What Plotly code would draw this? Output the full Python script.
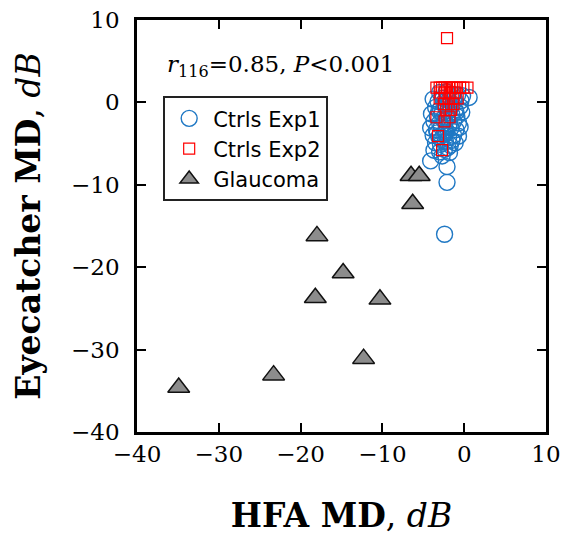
import plotly.graph_objects as go

# ---- data (dB) ----
exp1_x = [-3.0, -2.2, -1.5, -0.8, 0.6, -3.8, -3.2, -2.6, -1.9, -1.2, -0.4, -3.5, -2.9, -2.3,
          -1.7, -1.1, -0.5, -4.0, -3.3, -2.7, -2.1, -1.5, -0.9, -0.3, -3.7, -3.0, -2.4, -1.8,
          -1.3, -0.7, -4.1, -3.4, -2.8, -2.2, -1.6, -1.0, -0.5, -3.8, -3.1, -2.5, -1.9, -1.3,
          -0.7, -3.5, -2.9, -2.3, -1.7, -1.1, -3.7, -3.0, -2.4, -1.8, -2.7, -4.1, -2.1, -2.1,
          -2.4, -2.0, -2.6, -1.4, -3.1, -1.9, -2.3, -1.5, -2.0, -2.8, -3.3, -0.2, -1.0, -2.5]
exp1_y = [1.2, 1.3, 1.0, 0.9, 0.6, 0.4, 0.1, 0.5, 0.2, 0.4, 0.2, -0.6, -0.8, -0.4,
          -0.7, -0.9, -0.5, -1.4, -1.6, -1.3, -1.8, -1.5, -1.7, -1.2, -2.3, -2.5, -2.2, -2.6,
          -2.3, -2.5, -3.1, -3.3, -3.0, -3.4, -3.1, -3.3, -3.0, -4.0, -4.2, -3.9, -4.3, -4.0,
          -4.1, -4.9, -5.1, -4.8, -5.2, -4.9, -5.8, -6.0, -5.7, -6.1, -6.5, -7.1, -7.8, -9.7,
          -16.0, -1.0, -2.0, -0.2, -1.0, -2.9, -3.7, -4.6, -5.5, -4.5, -3.7, 0.8, -1.2, 0.0]

exp2_x = [-3.4, -3.0, -2.7, -2.4, -2.1, -1.8, -1.5, -1.2, -0.9, -0.5, -0.1, 0.4,
          -2.9, -2.3, -1.7, -1.1, -3.0, -2.4, -1.9, -1.4, -0.8, -2.5, -1.9, -1.3,
          -2.2, -1.6, -3.4, -1.8, -2.4, -3.2, -2.7, -2.1]
exp2_y = [1.8, 1.8, 1.8, 1.8, 1.8, 1.8, 1.8, 1.8, 1.8, 1.8, 1.8, 1.8,
          1.2, 1.2, 1.2, 1.2, 0.5, 0.5, 0.5, 0.5, 0.5, -0.2, -0.2, -0.2,
          -0.9, -0.9, -1.8, -1.8, -2.3, -4.1, -5.8, 7.8]

glau_x = [-34.9, -23.3, -12.3, -18.2, -10.3, -14.8, -18.0, -6.3, -6.5, -5.5]
glau_y = [-34.6, -33.1, -31.1, -23.7, -23.9, -20.7, -16.2, -12.3, -8.9, -8.9]

tick_vals = [-40, -30, -20, -10, 0, 10]
series_names = ["Ctrls Exp1", "Ctrls Exp2", "Glaucoma"]

serif = "DejaVu Serif"

fig = go.Figure()
fig.add_trace(go.Scatter(
    x=exp1_x, y=exp1_y, mode="markers", name=series_names[0],
    marker=dict(symbol="circle-open", size=16, color="#1f78c4", line=dict(width=1.4)),
))
fig.add_trace(go.Scatter(
    x=exp2_x, y=exp2_y, mode="markers", name=series_names[1],
    marker=dict(symbol="square-open", size=11, color="#ff0000", line=dict(width=1.2)),
))
fig.add_trace(go.Scatter(
    x=glau_x, y=glau_y, mode="markers", name=series_names[2],
    marker=dict(symbol="triangle-up", size=19, color="#8c8c8c",
                line=dict(width=1.5, color="#111111")),
))

axis_common = dict(
    range=[-40, 10], tickvals=tick_vals, ticks="inside", ticklen=9, tickwidth=2,
    tickcolor="black", showline=True, linewidth=2.5, linecolor="black", mirror="allticks",
    showgrid=False, zeroline=False, automargin=False,
    tickfont=dict(family=serif, size=23, color="black"),
)

fig.update_layout(
    width=564, height=535,
    margin=dict(l=137, r=18, t=20, b=103),
    paper_bgcolor="white", plot_bgcolor="white",
    showlegend=True,
    legend=dict(
        x=0.064, y=0.815, xanchor="left", yanchor="top",
        bgcolor="white", bordercolor="#222222", borderwidth=2,
        font=dict(family="DejaVu Sans", size=21, color="black"),
        tracegroupgap=0, itemwidth=38,
    ),
    xaxis=dict(**axis_common, ticklabelstandoff=0,
               title=dict(text="<b>HFA MD</b>, <i>dB</i>",
                          font=dict(family=serif, size=33, color="black"), standoff=40)),
    yaxis=dict(**axis_common, ticklabelstandoff=10,
               title=dict(text="<b>Eyecatcher MD</b>, <i>dB</i>",
                          font=dict(family=serif, size=33, color="black"), standoff=21)),
    annotations=[dict(
        x=0.068, y=0.888, xref="paper", yref="paper", xanchor="left", yanchor="middle",
        showarrow=False,
        text="<i>r</i><sub>116</sub>=0.85, <i>P</i>&lt;0.001",
        font=dict(family=serif, size=23, color="black"),
    )],
)

fig.write_html("out.html", config={"displayModeBar": False},
               post_script="document.body.style.margin='0px';")
